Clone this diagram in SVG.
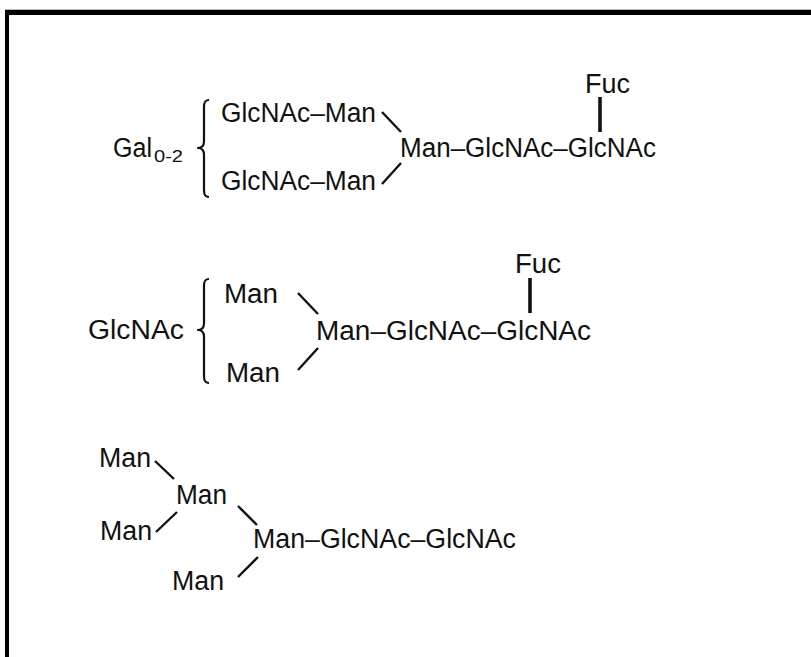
<svg xmlns="http://www.w3.org/2000/svg" width="811" height="657" viewBox="0 0 811 657">
  <style>
    text { font-family: "Liberation Sans", Arial, sans-serif; font-size: 27px; fill: #111; }
    .sub { font-size: 16.5px; }
    .bond { stroke: #111; stroke-width: 2.4; fill: none; stroke-linecap: butt; }
    .fbond { stroke: #111; stroke-width: 3.6; fill: none; }
    .brace { stroke: #111; stroke-width: 2.2; fill: none; stroke-linejoin: round; }
  </style>

  <!-- page frame: thin grey rule, thick top bar and left bar -->
  <g id="frame">
    <rect x="5" y="9" width="806" height="1" fill="#b8b8b8"/>
    <rect x="5" y="10" width="806" height="5" fill="#000"/>
    <rect x="5" y="10" width="4" height="647" fill="#000"/>
  </g>

  <!-- bonds and braces -->
  <g id="connectors">
    <!-- structure 1 -->
    <path class="brace" d="M209,100 C205,100 204,102 204,107 L204,141 C204,146 202,148 198,148 C202,148 204,150 204,155 L204,190 C204,195 205,197 209,197"/>
    <line class="bond" x1="382" y1="112" x2="401" y2="132"/>
    <line class="bond" x1="401" y1="163" x2="382" y2="184"/>
    <line class="fbond" x1="600" y1="97" x2="600" y2="132"/>
    <!-- structure 2 -->
    <path class="brace" d="M209,279 C205,279 204,281 204,286 L204,323 C204,328 202,330 198,330 C202,330 204,332 204,337 L204,376 C204,381 205,383 209,383"/>
    <line class="bond" x1="298" y1="293" x2="318" y2="314"/>
    <line class="bond" x1="318" y1="348" x2="298" y2="370"/>
    <line class="fbond" x1="530" y1="278" x2="530" y2="313"/>
    <!-- structure 3 -->
    <line class="bond" x1="155" y1="461" x2="174" y2="479"/>
    <line class="bond" x1="177" y1="512" x2="156" y2="532"/>
    <line class="bond" x1="238" y1="506" x2="257" y2="525"/>
    <line class="bond" x1="258" y1="557" x2="238" y2="577"/>
  </g>

  <!-- structure 1 -->
  <g id="s1-gal"><text x="113" y="157" textLength="39" lengthAdjust="spacingAndGlyphs">Gal</text><text class="sub" x="154" y="162" textLength="29" lengthAdjust="spacingAndGlyphs">0-2</text></g>
  <g id="s1-arm-top"><text x="221" y="122" textLength="155" lengthAdjust="spacingAndGlyphs">GlcNAc–Man</text></g>
  <g id="s1-arm-bottom"><text x="221" y="190" textLength="155" lengthAdjust="spacingAndGlyphs">GlcNAc–Man</text></g>
  <g id="s1-core"><text x="400" y="157" textLength="256" lengthAdjust="spacingAndGlyphs">Man–GlcNAc–GlcNAc</text></g>
  <g id="s1-fuc"><text x="585" y="93" textLength="45" lengthAdjust="spacingAndGlyphs">Fuc</text></g>

  <!-- structure 2 -->
  <g id="s2-glcnac"><text x="88" y="339" textLength="96" lengthAdjust="spacingAndGlyphs">GlcNAc</text></g>
  <g id="s2-man-top"><text x="224" y="303" textLength="54" lengthAdjust="spacingAndGlyphs">Man</text></g>
  <g id="s2-man-bottom"><text x="226" y="382" textLength="54" lengthAdjust="spacingAndGlyphs">Man</text></g>
  <g id="s2-core"><text x="316" y="340" textLength="275" lengthAdjust="spacingAndGlyphs">Man–GlcNAc–GlcNAc</text></g>
  <g id="s2-fuc"><text x="515" y="273" textLength="46" lengthAdjust="spacingAndGlyphs">Fuc</text></g>

  <!-- structure 3 -->
  <g id="s3-man-a"><text x="99" y="467" textLength="52" lengthAdjust="spacingAndGlyphs">Man</text></g>
  <g id="s3-man-b"><text x="176" y="504" textLength="51" lengthAdjust="spacingAndGlyphs">Man</text></g>
  <g id="s3-man-c"><text x="100" y="540" textLength="52" lengthAdjust="spacingAndGlyphs">Man</text></g>
  <g id="s3-man-d"><text x="172" y="590" textLength="52" lengthAdjust="spacingAndGlyphs">Man</text></g>
  <g id="s3-core"><text x="253" y="548" textLength="263" lengthAdjust="spacingAndGlyphs">Man–GlcNAc–GlcNAc</text></g>
</svg>
